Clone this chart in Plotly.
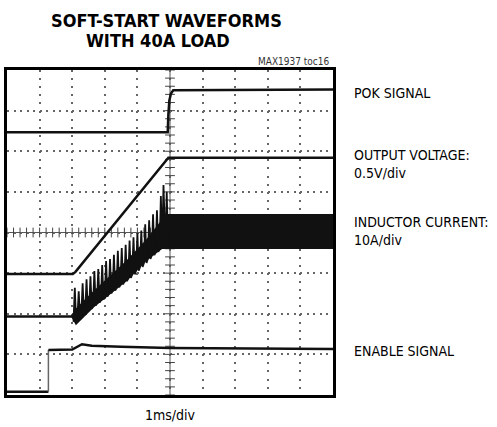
import plotly.graph_objects as go

# scope divisions: x 0..10 (1ms/div), y 0..8
# POK signal
pok_x = [0, 4.93, 4.95, 4.98, 5.03, 5.10, 10]
pok_y = [6.47, 6.47, 6.90, 7.25, 7.42, 7.50, 7.52]

# output voltage
vout_x = [0, 2.02, 2.10, 4.95, 10]
vout_y = [2.98, 2.98, 3.03, 5.84, 5.84]

# inductor current - flat before soft-start
il_pre_x = [0, 2.0]
il_pre_y = [1.93, 1.93]

# inductor current - ripple band (lower edge, then dense upper edge back)
il_lo_x = [2.0, 2.12, 2.64, 3.67, 4.30, 4.75, 10]
il_lo_y = [1.93, 1.76, 2.17, 2.83, 3.35, 3.62, 3.62]
il_hi_x = [10, 4.90, 4.75, 4.30, 3.67, 2.64, 2.12, 2.0]
il_hi_y = [4.43, 4.43, 4.28, 3.82, 3.28, 2.52, 2.10, 1.93]

# inductor current - ripple spikes during ramp (peak positions / peak values)
spike_x = [2.08, 2.20, 2.32, 2.44, 2.56, 2.68, 2.80, 2.92, 3.04, 3.16, 3.28, 3.40,
           3.52, 3.64, 3.76, 3.88, 4.00, 4.12, 4.24, 4.36, 4.48, 4.60, 4.72, 4.80, 4.90]
spike_top = [2.64, 2.55, 2.75, 2.85, 2.92, 3.05, 3.10, 3.20, 3.30, 3.35, 3.45, 3.55,
             3.62, 3.70, 3.80, 3.88, 3.98, 4.05, 4.20, 4.30, 4.45, 4.55, 4.90, 5.17, 5.00]
spike_bot = [1.80, 1.90, 1.98, 2.05, 2.12, 2.20, 2.27, 2.35, 2.42, 2.50, 2.57, 2.65,
             2.72, 2.80, 2.88, 2.97, 3.06, 3.15, 3.25, 3.35, 3.44, 3.52, 3.60, 3.62, 3.62]

# enable signal
en_x = [0, 1.27, 1.27, 2.00, 2.30, 2.60, 3.50, 5.00, 10]
en_y = [0.08, 0.08, 1.11, 1.12, 1.25, 1.21, 1.19, 1.16, 1.13]

labels = [("POK SIGNAL", 93), ("OUTPUT VOLTAGE:<br>0.5V/div", 164),
          ("INDUCTOR CURRENT:<br>10A/div", 231), ("ENABLE SIGNAL", 351)]

FONT = "DejaVu Sans Condensed, Liberation Sans Narrow, sans-serif"
BLK = "#111111"


def px(xp):
    return (xp - 7) / 326


def py(yp):
    return (395 - yp) / 325


fig = go.Figure()

# centre cross ticks
tick_pos_y = [i * 0.2 for i in range(41)]
tick_pos_x = [i * 0.2 for i in range(51)]
fig.add_trace(go.Scatter(x=[5] * len(tick_pos_y), y=tick_pos_y, mode="markers",
                         marker=dict(symbol="line-ew", size=7, line=dict(width=1, color="#444")),
                         hoverinfo="skip"))
fig.add_trace(go.Scatter(x=tick_pos_x, y=[4] * len(tick_pos_x), mode="markers",
                         marker=dict(symbol="line-ns", size=7, line=dict(width=1, color="#444")),
                         hoverinfo="skip"))

# inductor band
fig.add_trace(go.Scatter(x=il_lo_x + il_hi_x, y=il_lo_y + il_hi_y, mode="lines",
                         fill="toself", fillcolor=BLK, line=dict(color=BLK, width=2)))
fig.add_trace(go.Scatter(x=il_pre_x, y=il_pre_y, mode="lines", line=dict(color=BLK, width=2.5)))
zx, zy = [], []
for sx, st, sb in zip(spike_x, spike_top, spike_bot):
    zx += [sx - 0.04, sx, sx + 0.04]
    zy += [sb, st, sb]
fig.add_trace(go.Scatter(x=zx, y=zy, mode="lines", line=dict(color=BLK, width=1.8)))

fig.add_trace(go.Scatter(x=pok_x, y=pok_y, mode="lines", line=dict(color=BLK, width=2.5)))
fig.add_trace(go.Scatter(x=vout_x, y=vout_y, mode="lines", line=dict(color=BLK, width=2.5)))
fig.add_trace(go.Scatter(x=en_x[:2], y=en_y[:2], mode="lines", line=dict(color=BLK, width=2.5)))
fig.add_trace(go.Scatter(x=en_x[1:3], y=en_y[1:3], mode="lines", line=dict(color="#666", width=1.5)))
fig.add_trace(go.Scatter(x=en_x[2:], y=en_y[2:], mode="lines", line=dict(color=BLK, width=2.5)))

fig.add_shape(type="line", x0=5, x1=5, y0=0, y1=8, line=dict(color="#555", width=1), layer="below")
fig.add_shape(type="line", x0=0, x1=10, y0=4, y1=4, line=dict(color="#555", width=1), layer="below")

fig.update_xaxes(range=[0, 10], dtick=1, showgrid=True, gridcolor="#666", gridwidth=1.5,
                 griddash="2px,6.12px", showticklabels=False, ticks="", zeroline=False,
                 showline=True, mirror=True, linewidth=3, linecolor="black")
fig.update_yaxes(range=[0, 8], dtick=1, showgrid=True, gridcolor="#666", gridwidth=1.5,
                 griddash="2px,4.52px", showticklabels=False, ticks="", zeroline=False,
                 showline=True, mirror=True, linewidth=3, linecolor="black")

fig.add_annotation(text="<b>SOFT-START WAVEFORMS</b>", xref="paper", yref="paper",
                   x=px(166), y=py(20), xanchor="center", yanchor="middle", showarrow=False,
                   font=dict(family=FONT, size=18, color="black"))
fig.add_annotation(text="<b>WITH 40A LOAD</b>", xref="paper", yref="paper",
                   x=px(158), y=py(40), xanchor="center", yanchor="middle", showarrow=False,
                   font=dict(family=FONT, size=18, color="black"))
fig.add_annotation(text="MAX1937 toc16", xref="paper", yref="paper", x=px(332), y=py(62),
                   xanchor="right", yanchor="middle", showarrow=False,
                   font=dict(family=FONT, size=10, color="#333"))
fig.add_annotation(text="1ms/div", xref="paper", yref="paper", x=0.5, y=py(415),
                   xanchor="center", yanchor="middle", showarrow=False,
                   font=dict(family=FONT, size=14, color="black"))
for txt, ypx in labels:
    fig.add_annotation(text=txt, xref="paper", yref="paper", x=px(352), y=py(ypx),
                       xanchor="left", yanchor="middle", align="left", showarrow=False,
                       font=dict(family=FONT, size=14, color="black"))

fig.update_layout(width=497, height=427, margin=dict(l=7, r=164, t=70, b=32),
                  paper_bgcolor="white", plot_bgcolor="white", showlegend=False)

fig.write_html("out.html", config={"displayModeBar": False},
               post_script="document.body.style.margin='0px';")
